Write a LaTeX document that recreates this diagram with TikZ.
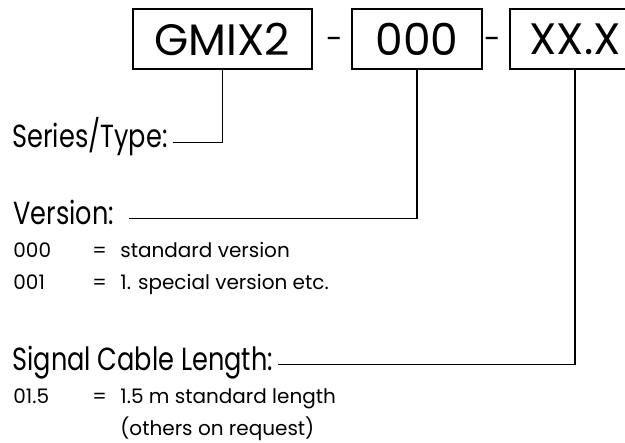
\documentclass[tikz,border=0pt]{standalone}
\usepackage{fontspec}
\setmainfont{Poppins}
\newfontfamily\headfont{Poppins}[FakeStretch=0.8]
\begin{document}
\begin{tikzpicture}
	[x=0.5pt,y=-0.5pt,
	code/.style={rectangle,draw=black,line width=0.8pt,minimum height=30pt,inner sep=0pt,font=\fontsize{22}{24}\selectfont},
	sep/.style={draw=none,fill=none,anchor=base,inner sep=0pt,font=\fontsize{15}{18}\selectfont},
	head/.style={anchor=base west,inner sep=2.5pt,font=\headfont\fontsize{16}{18}\selectfont},
	info/.style={anchor=base west,inner sep=0pt,align=left,font=\fontsize{10}{16}\selectfont},
	wire/.style={line width=0.8pt}
	]
	\useasboundingbox (0,0) rectangle (625,443);
	\clip (0,0) rectangle (625,443);
	\node[code,minimum width=89.5pt] (series) at (222.5,39){GMIX2};
	\node[sep] (dasha) at (335,50){-};
	\node[code,minimum width=65pt] (version) at (417,39){000};
	\node[sep] (dashb) at (493,50){-};
	\node[code,minimum width=65pt] (length) at (575,39){XX.X};
\node[head] (stype) at (7,148){Series/Type:};
\node[head] (vlabel) at (8,224){Version:};
\node[head] (slabel) at (7,370){Signal Cable Length:};
\node[info] (vinfo) at (13,257){\begin{tabular}[t]{@{}p{39.5pt}@{}p{14pt}@{}l@{}}
000 & = & standard version\\
001 & = & 1. special version etc.
\end{tabular}};
\node[info] (sinfo) at (13,403){\begin{tabular}[t]{@{}p{39.5pt}@{}p{14pt}@{}l@{}}
01.5 & = & 1.5 m standard length\\
 & & (others on request)
\end{tabular}};
	\draw[wire] (series.south) |- (stype.mid east);
	\draw[wire] (version.south) |- ([xshift=5pt]vlabel.mid east);
	\draw[wire] (length.south) |- (slabel.mid east);
\end{tikzpicture}
\end{document}
